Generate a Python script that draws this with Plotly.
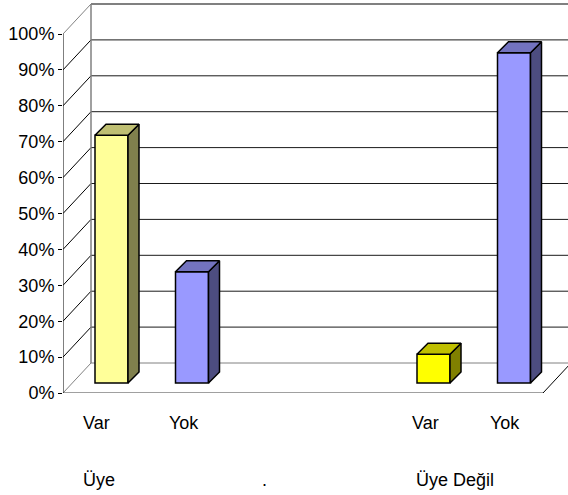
import plotly.graph_objects as go

# ---- data ----
groups = ["Üye", ".", "Üye Değil"]
categories = ["Var", "Yok"]
values_uye = [69, 31]
values_nokta = [None, None]
values_uye_degil = [8, 92]
y_ticks = [0, 10, 20, 30, 40, 50, 60, 70, 80, 90, 100]
y_tick_labels = [f"{v}%" for v in y_ticks]

series = [values_uye, values_nokta, values_uye_degil]
front_colors = [["#FFFF99", "#9999FF"], [None, None], ["#FFFF00", "#9999FF"]]
side_colors = [["#80804D", "#4D4D80"], [None, None], ["#808000", "#4D4D80"]]
top_colors = [["#BFBF73", "#7373BF"], [None, None], ["#BFBF00", "#7373BF"]]

# ---- geometry (layout scale) ----
W, H = 568, 495
ML, MR, MT, MB = 63, 0, 2, 102
PX_SLOT = 80.5          # px per category slot
PX_UNIT = 3.59          # px per percent
X0_PX = 111.5           # px of first slot centre
plot_w = W - ML - MR
plot_h = H - MT - MB
xr = [(ML - X0_PX) / PX_SLOT, (W - MR - X0_PX) / PX_SLOT]
yr = [0, plot_h / PX_UNIT]

WALL_DX = 28 / PX_SLOT
WALL_DY = 30 / PX_UNIT
BAR_BASE = 10 / PX_UNIT
BAR_W = 33 / PX_SLOT
BAR_DX = 11 / PX_SLOT
BAR_DY = 11 / PX_UNIT
FLOOR_RIGHT = (543 - X0_PX) / PX_SLOT

def paper_y(px):
    return (H - px - MB) / plot_h

fig = go.Figure()
shapes = []
gx0 = xr[0]
bx0 = xr[0] + WALL_DX
# back wall gridlines and left wall diagonals
for v in y_ticks:
    col = "#808080" if v in (0, 100) else "#1a1a1a"
    wid = 2 if v == 100 else 1
    shapes.append(dict(type="line", xref="x", yref="y", x0=bx0, x1=FLOOR_RIGHT + WALL_DX + 0.2,
                       y0=v + WALL_DY, y1=v + WALL_DY, line=dict(color=col, width=wid), layer="below"))
    dcol = "#808080" if v in (0, 100) else "#000000"
    shapes.append(dict(type="line", xref="x", yref="y", x0=gx0, x1=bx0,
                       y0=v, y1=v + WALL_DY, line=dict(color=dcol, width=1), layer="below"))
# back wall left edge
shapes.append(dict(type="line", xref="x", yref="y", x0=bx0, x1=bx0, y0=WALL_DY, y1=100 + WALL_DY,
                   line=dict(color="#808080", width=1.5), layer="below"))
# floor front and right edge
shapes.append(dict(type="line", xref="x", yref="y", x0=gx0, x1=FLOOR_RIGHT, y0=0, y1=0,
                   line=dict(color="#808080", width=1.5), layer="below"))
shapes.append(dict(type="line", xref="x", yref="y", x0=FLOOR_RIGHT, x1=FLOOR_RIGHT + WALL_DX,
                   y0=0, y1=WALL_DY, line=dict(color="#000000", width=1), layer="below"))
# front value axis line
shapes.append(dict(type="line", xref="x", yref="y", x0=gx0, x1=gx0, y0=0, y1=100,
                   line=dict(color="#000000", width=1), layer="below"))

# bars
for gi, vals in enumerate(series):
    for ci, v in enumerate(vals):
        if v is None:
            continue
        slot = gi * len(categories) + ci
        xl, xrr = slot - BAR_W / 2, slot + BAR_W / 2
        top = BAR_BASE + v
        fig.add_trace(go.Bar(x=[slot], y=[v], base=[BAR_BASE], width=BAR_W,
                             marker=dict(color=front_colors[gi][ci], line=dict(color="black", width=1.5)),
                             hoverinfo="skip", showlegend=False))
        fig.add_trace(go.Scatter(x=[xrr, xrr + BAR_DX, xrr + BAR_DX, xrr, xrr],
                                 y=[BAR_BASE, BAR_BASE + BAR_DY, top + BAR_DY, top, BAR_BASE],
                                 fill="toself", fillcolor=side_colors[gi][ci], mode="lines",
                                 line=dict(color="black", width=1.5), hoverinfo="skip", showlegend=False))
        fig.add_trace(go.Scatter(x=[xl, xrr, xrr + BAR_DX, xl + BAR_DX, xl],
                                 y=[top, top, top + BAR_DY, top + BAR_DY, top],
                                 fill="toself", fillcolor=top_colors[gi][ci], mode="lines",
                                 line=dict(color="black", width=1.5), hoverinfo="skip", showlegend=False))

FONT = "Liberation Sans Narrow, Arial Narrow, Liberation Sans, Arial, sans-serif"
annotations = []
cat_label_px = [[96, 184], [None, None], [425, 505]]
for gi, vals in enumerate(series):
    for ci, c in enumerate(categories):
        px = cat_label_px[gi][ci]
        if px is None:
            continue
        annotations.append(dict(x=(px - X0_PX) / PX_SLOT, y=paper_y(423), xref="x", yref="paper",
                                text=c, showarrow=False, yanchor="middle",
                                font=dict(family=FONT, size=18, color="black")))
group_label_px = [99, 264, 455]
for g, px in zip(groups, group_label_px):
    annotations.append(dict(x=(px - X0_PX) / PX_SLOT, y=paper_y(480), xref="x", yref="paper",
                            text=g, showarrow=False, yanchor="middle",
                            font=dict(family=FONT, size=18, color="black")))

fig.update_layout(
    width=W, height=H, margin=dict(l=ML, r=MR, t=MT, b=MB),
    paper_bgcolor="white", plot_bgcolor="white",
    shapes=shapes, annotations=annotations, barmode="overlay",
    xaxis=dict(range=xr, visible=False, fixedrange=True),
    yaxis=dict(range=yr, tickvals=y_ticks, ticktext=y_tick_labels, ticks="outside", ticklen=4,
               tickcolor="black", tickwidth=1, showgrid=False, zeroline=False, showline=False,
               tickfont=dict(family=FONT, size=18, color="black"), fixedrange=True),
)
fig.write_html("out.html", config={"displayModeBar": False},
               post_script="document.body.style.margin='0';")
